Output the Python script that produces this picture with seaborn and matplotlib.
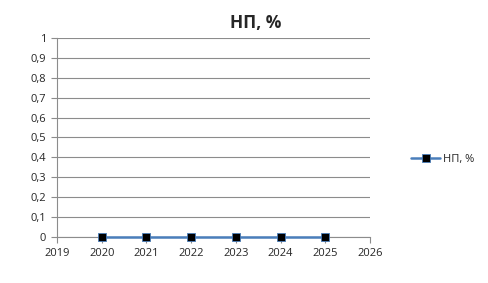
import matplotlib
matplotlib.use("Agg")
import matplotlib.pyplot as plt
import seaborn as sns
import pandas as pd

years = [2020, 2021, 2022, 2023, 2024, 2025]
values = [0, 0, 0, 0, 0, 0]
series_name = "НП, %"
x_ticks = [2019, 2020, 2021, 2022, 2023, 2024, 2025, 2026]
y_ticks = [0, 0.1, 0.2, 0.3, 0.4, 0.5, 0.6, 0.7, 0.8, 0.9, 1.0]
y_tick_labels = ["0", "0,1", "0,2", "0,3", "0,4", "0,5", "0,6", "0,7", "0,8", "0,9", "1"]

df = pd.DataFrame({"year": years, "value": values, "series": series_name})

sns.set_style("white")
plt.rcParams['font.family'] = ['Open Sans', 'DejaVu Sans']

fig = plt.figure(figsize=(4.88, 2.83), dpi=100)
ax = fig.add_axes([0.117, 0.1625, 0.641, 0.7035])

sns.lineplot(data=df, x="year", y="value", hue="series", palette=["#4A7EBB"],
             marker="s", markersize=6, markerfacecolor="black", markeredgecolor="#4A7EBB",
             markeredgewidth=0.6, linewidth=1.8, ax=ax, legend=True)
for ln in ax.lines:
    ln.set_clip_on(False)
    ln.set_zorder(5)

ax.set_xlim(2019, 2026)
ax.set_ylim(0, 1)
ax.set_xticks(x_ticks)
ax.set_xticklabels([str(t) for t in x_ticks], fontsize=8)
ax.set_yticks(y_ticks)
ax.set_yticklabels(y_tick_labels, fontsize=8)
ax.set_xlabel("")
ax.set_ylabel("")
ax.grid(axis="y", color="#8c8c8c", linewidth=0.8)
ax.set_axisbelow(True)
for s in ["top", "right"]:
    ax.spines[s].set_visible(False)
for s in ["left", "bottom"]:
    ax.spines[s].set_color("#8c8c8c")
    ax.spines[s].set_linewidth(0.8)
ax.tick_params(axis="both", which="both", length=4, color="#8c8c8c", direction="out",
               left=True, bottom=True, pad=4)

handles, labels = ax.get_legend_handles_labels()
ax.legend(handles=handles, labels=labels, loc="center left", bbox_to_anchor=(1.1, 0.39),
          frameon=False, fontsize=8, handlelength=2.6, handletextpad=0.3)

fig.text(0.523, 0.92, series_name, ha="center", va="center", fontsize=12.5, fontweight="bold")

fig.savefig("out.png", dpi=100)
